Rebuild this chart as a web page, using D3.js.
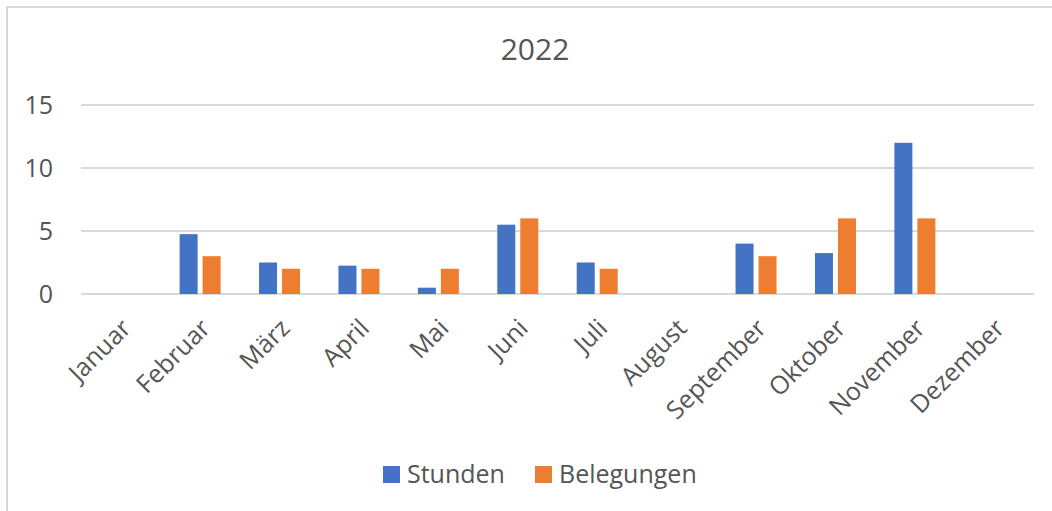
<!DOCTYPE html>
<html>
<head>
<meta charset="utf-8">
<script src="https://cdn.jsdelivr.net/npm/d3@7"></script>
<style>
  body { margin: 0; background: #fff; }
  text { font-family: "Open Sans", sans-serif; fill: #555555; }
</style>
</head>
<body>
<div id="app"></div>
<script>
const months = ["Januar", "Februar", "März", "April", "Mai", "Juni", "Juli", "August", "September", "Oktober", "November", "Dezember"]
const stunden = [0, 4.75, 2.5, 2.25, 0.5, 5.5, 2.5, 0, 4, 3.25, 12, 0]
const belegungen = [0, 3, 2, 2, 2, 6, 2, 0, 3, 6, 6, 0]
const seriesNames = ["Stunden", "Belegungen"]
const yTicks = [0, 5, 10, 15]
const colors = ["#4472C4", "#ED7D31"]

const width = 1052
const height = 511

const svg = d3.select('#app')
  .append('svg')
  .attr('width', width)
  .attr('height', height)

// chart frame (only left/top visible in the crop)
svg.append('rect')
  .attr('x', 7).attr('y', 7)
  .attr('width', 1200).attr('height', 700)
  .attr('fill', 'none')
  .attr('stroke', '#d9d9d9')
  .attr('stroke-width', 2)

svg.append('text')
  .attr('x', 535)
  .attr('y', 60)
  .attr('text-anchor', 'middle')
  .style('font-size', '30px')
  .text('2022')

const x0 = d3.scaleBand()
  .domain(months)
  .range([81, 1034])
  .paddingInner(0.484)
  .paddingOuter(0.242)

const x1 = d3.scaleBand()
  .domain(seriesNames)
  .range([0, x0.bandwidth()])
  .paddingInner(0.217)

const y = d3.scaleLinear()
  .domain([0, 15])
  .range([294, 105])

// gridlines
svg.append('g')
  .selectAll('line')
  .data(yTicks)
  .enter()
  .append('line')
  .attr('x1', 81)
  .attr('x2', 1034)
  .attr('y1', d => y(d))
  .attr('y2', d => y(d))
  .attr('stroke', '#d9d9d9')
  .attr('stroke-width', 2)

// y labels
svg.append('g')
  .selectAll('text')
  .data(yTicks)
  .enter()
  .append('text')
  .attr('x', 53)
  .attr('y', d => y(d))
  .attr('dy', '0.36em')
  .attr('text-anchor', 'end')
  .style('font-size', '25px')
  .text(d => d)

const table = months.map((m, i) => ({ month: m, values: [stunden[i], belegungen[i]] }))

svg.append('g')
  .selectAll('g')
  .data(table)
  .enter()
  .append('g')
  .attr('transform', d => 'translate(' + x0(d.month) + ',0)')
  .selectAll('rect')
  .data(d => d.values.map((v, i) => ({ key: seriesNames[i], value: v, i: i })))
  .enter()
  .filter(d => d.value > 0)
  .append('rect')
  .attr('x', d => x1(d.key))
  .attr('y', d => y(d.value))
  .attr('width', x1.bandwidth())
  .attr('height', d => y(0) - y(d.value))
  .attr('fill', d => colors[d.i])

// x labels
svg.append('g')
  .selectAll('text')
  .data(months)
  .enter()
  .append('text')
  .attr('transform', d => 'translate(' + (x0(d) + x0.bandwidth() / 2 - 1) + ',317) rotate(-45)')
  .attr('dy', '0.72em')
  .attr('text-anchor', 'end')
  .style('font-size', '25px')
  .text(d => d)

// legend
const legendX = [383, 535]
const legend = svg.append('g')
  .selectAll('g')
  .data(seriesNames)
  .enter()
  .append('g')
  .attr('transform', (d, i) => 'translate(' + legendX[i] + ',466)')

legend.append('rect')
  .attr('width', 17)
  .attr('height', 17)
  .attr('fill', (d, i) => colors[i])

legend.append('text')
  .attr('x', 24)
  .attr('y', 17)
  .style('font-size', '25px')
  .text(d => d)
</script>
</body>
</html>
